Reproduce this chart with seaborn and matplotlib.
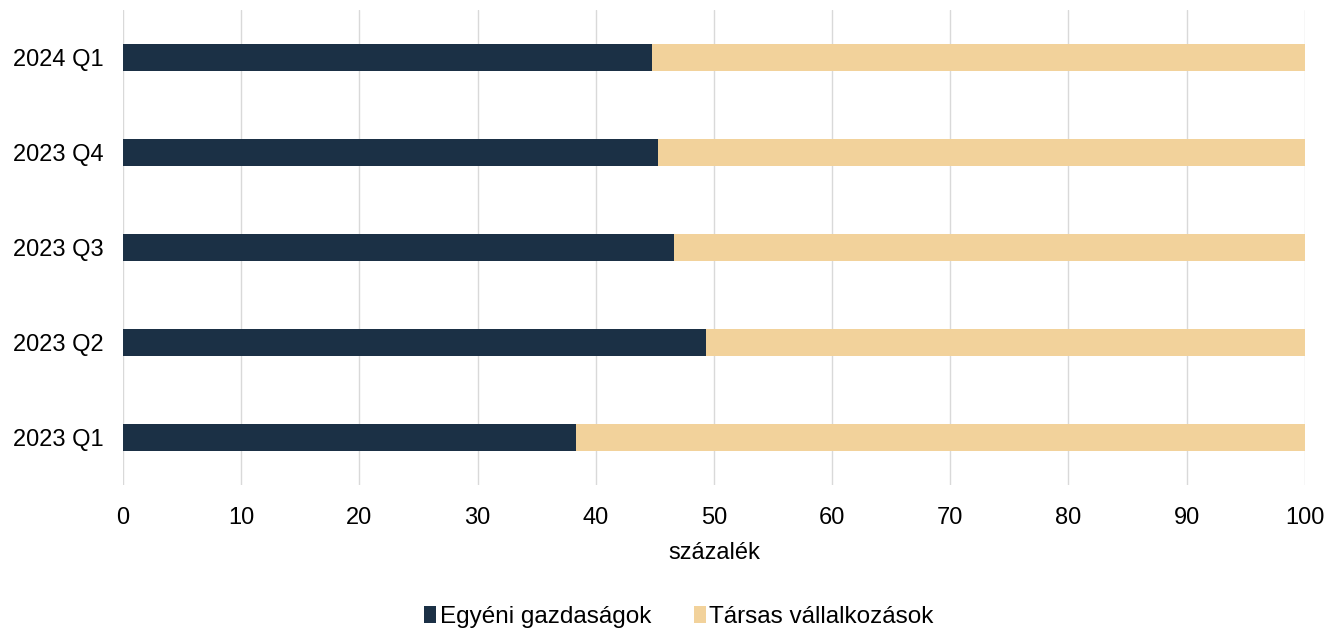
import matplotlib
matplotlib.use("Agg")
import matplotlib.pyplot as plt
import seaborn as sns
import pandas as pd
from matplotlib.patches import Patch

categories = ["2024 Q1", "2023 Q4", "2023 Q3", "2023 Q2", "2023 Q1"]
egyeni = [44.8, 45.3, 46.6, 49.3, 38.3]
tarsas = [55.2, 54.7, 53.4, 50.7, 61.7]
series_names = ["Egyéni gazdaságok", "Társas vállalkozások"]
xticks = [0, 10, 20, 30, 40, 50, 60, 70, 80, 90, 100]

dark = "#1B3045"
tan = "#F2D29B"

sns.set_theme(style="white")
plt.rcParams["font.family"] = ["Liberation Sans", "DejaVu Sans"]
plt.rcParams["text.color"] = "black"
plt.rcParams["axes.labelcolor"] = "black"

df = pd.DataFrame({"cat": categories, "egyeni": egyeni, "tarsas": tarsas})
df["total"] = df["egyeni"] + df["tarsas"]

fig, ax = plt.subplots(figsize=(13.26, 6.28), dpi=100)
fig.subplots_adjust(left=0.0928, right=0.984, top=0.984, bottom=0.228)

sns.barplot(data=df, y="cat", x="total", order=categories, color=tan,
            width=0.285, saturation=1, ax=ax, orient="h", zorder=3, linewidth=0)
sns.barplot(data=df, y="cat", x="egyeni", order=categories, color=dark,
            width=0.285, saturation=1, ax=ax, orient="h", zorder=4, linewidth=0)

ax.set_xlim(0, 100)
ax.set_ylim(4.5, -0.5)
ax.set_xticks(xticks)
ax.set_xticklabels([str(t) for t in xticks])
ax.xaxis.grid(True, color="#D9D9D9", linewidth=1, zorder=0)
ax.yaxis.grid(False)
ax.set_axisbelow(True)
for s in ax.spines.values():
    s.set_visible(False)
ax.tick_params(axis="both", length=0, labelsize=17, colors="black")
ax.tick_params(axis="x", pad=16)
ax.tick_params(axis="y", pad=14)
ax.set_ylabel("")
ax.set_xlabel("százalék", fontsize=17, labelpad=9, color="black")

handles = [Patch(facecolor=dark, edgecolor="none"), Patch(facecolor=tan, edgecolor="none")]
fig.legend(handles, series_names, loc="center", bbox_to_anchor=(0.512, 0.018), ncol=2,
           frameon=False, fontsize=17.5, handlelength=0.5, handleheight=0.75,
           handletextpad=0.15, columnspacing=1.75)

fig.savefig("out.png", dpi=100)
